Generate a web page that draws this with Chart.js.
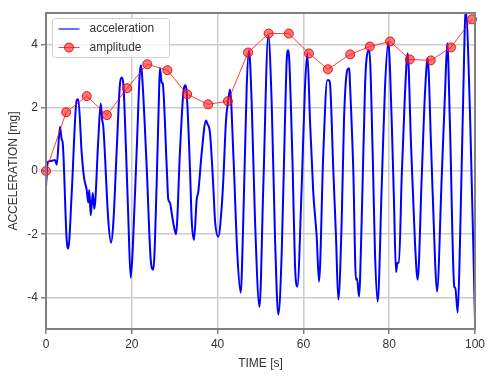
<!DOCTYPE html>
<html>
<head>
<meta charset="utf-8">
<script src="https://cdn.jsdelivr.net/npm/chart.js@4"></script>
<style>
  body { margin: 0; background: #fff; }
  canvas { display: block; }
</style>
</head>
<body>
<canvas id="accChart" width="499" height="378"></canvas>
<script>
// acceleration signal (time [s], value [mg])
const accTime = [0, 0.05, 0.3, 1.2, 2.1, 2.5, 3.26, 3.66, 3.89, 4.83, 5.2, 5.99, 7.16, 7.53, 8.32, 8.86, 9.49, 9.86, 10.09, 10.42, 10.89, 11.26,
  12.19, 12.75, 13.12, 13.36, 14.52, 15.15, 15.69, 16.48, 17.25, 17.65, 18.02, 18.65, 19.18, 19.74, 20.21, 21.14, 22.07, 22.31,
  23.47, 24.41, 25.01, 25.8, 26.41, 26.57, 26.97, 27.2, 28.14, 28.51, 28.9, 29.3, 29.67, 30.3, 31.24, 32.0, 32.4, 32.8,
  33.57, 33.96, 34.5, 35.13, 35.5, 36.29, 37.3, 37.6, 38.23, 39.0, 39.39, 40.16, 40.96, 41.33, 41.96, 42.49, 42.89,
  43.66, 44.59, 45.38, 45.99, 46.78, 47.32, 47.95, 48.72, 49.77, 50.65, 51.82, 52.61, 53.38, 54.15, 54.94, 55.71, 56.11, 56.48, 56.71,
  57.51, 58.04, 58.58, 59.6, 60.37, 60.91, 61.54, 62.31, 63.1, 63.64, 64.64, 65.57, 65.92, 66.2, 66.97, 67.6, 68.14,
  68.93, 69.46, 70.23, 70.7, 70.86, 71.63, 72.26, 72.5, 72.96, 73.59, 74.36, 74.76, 75.36, 76.15, 76.69, 77.32,
  78.25, 79.02, 79.79, 80.58, 81.12, 81.59, 81.93, 82.28, 82.91, 83.68, 84.31, 85.08, 86.01, 86.64, 87.58, 88.34, 88.97,
  89.74, 90.68, 91.14, 92.24, 93.01, 93.54, 94.17, 95.17, 95.4, 95.97, 96.5, 97.27, 97.83, 98.9, 100];
const accValue = [0.40, -0.45, 0.28, 0.32, 0.35, 0.20, 1.40, 1.00, 0.90, -2.20, -2.45, -0.70, 2.24, 2.27, 0.57, -0.20, -0.60, -1.00, -0.60, -1.40, -0.70, -1.20,
  1.00, 2.14, 1.60, 1.40, -1.55, -2.27, -1.65, 0.66, 2.77, 2.96, 2.77, 0.66, -1.45, -3.38, -2.50, 0.66, 3.34, 3.19,
  0.13, -2.80, -3.12, -0.38, 2.77, 3.25, 2.80, 2.77, 0.13, -0.90, -1.00, -1.33, -1.64, -2.00, 0.66, 2.46, 2.71, 2.46,
  0.03, -1.55, -2.18, -0.90, -0.66, 0.57, 1.60, 1.50, 1.20, -0.50, -1.55, -2.08, -1.13, -0.28, 1.60, 2.24, 2.58,
  0.57, -2.60, -3.85, -1.55, 2.65, 3.82, 2.14, -1.55, -4.30, -0.50, 4.29, 2.14, -2.08, -4.54, -2.60, 1.60, 3.50, 3.82, 3.50,
  0.03, -2.97, -3.66, -0.50, 2.65, 3.72, 1.60, -0.70, -2.08, -3.50, 0.57, 2.87, 2.87, 2.77, 0.03, -2.08, -4.07,
  -1.55, 1.60, 3.19, 3.25, 2.77, 0.03, -3.44, -3.40, -3.97, -1.55, 2.65, 3.60, 3.82, 0.57, -2.60, -4.13,
  -0.50, 2.65, 4.07, 1.60, -1.00, -3.20, -2.90, -2.90, -0.20, 2.46, 3.72, 0.88, -2.27, -3.44, -0.20, 2.46, 3.56,
  0.88, -2.80, -3.82, -0.20, 2.46, 4.04, 1.40, -3.66, -3.70, -4.48, -2.27, 2.46, 5.10, 1.50, -4.70];

// amplitude markers
const ampTime = [0, 4.7, 9.5, 14.2, 18.9, 23.6, 28.3, 32.9, 37.8, 42.4, 47.1, 51.9, 56.6, 61.3, 65.7, 70.9, 75.5, 80.2, 84.8, 89.7, 94.4, 99.3];
const ampValue = [0, 1.86, 2.37, 1.77, 2.62, 3.38, 3.19, 2.43, 2.11, 2.21, 3.75, 4.35, 4.35, 3.72, 3.22, 3.69, 3.94, 4.10, 3.53, 3.50, 3.91, 4.80];

const yTicks = [-4, -2, 0, 2, 4];
const xTicks = [0, 20, 40, 60, 80, 100];
const legendLabels = ['acceleration', 'amplitude'];

const FONT = { family: '"Liberation Sans", Arial, sans-serif', size: 12 };
const GRID = '#cccccc';
const SPINE = '#808080';
const AMP_FILL = 'rgba(255,30,30,0.6)';
const AMP_EDGE = 'rgba(235,0,0,0.9)';

// frame on all four sides + legend box in the upper left corner
const framePlugin = {
  id: 'frame',
  afterDraw(chart) {
    const { ctx, chartArea: a } = chart;
    ctx.save();
    ctx.strokeStyle = SPINE;
    ctx.lineWidth = 2;
    ctx.strokeRect(a.left, a.top, a.right - a.left, a.bottom - a.top);

    // legend
    const lx = a.left + 6.5, ly = a.top + 5.5, lw = 117, lh = 39;
    ctx.beginPath();
    ctx.roundRect(lx, ly, lw, lh, 3);
    ctx.fillStyle = 'rgba(255,255,255,0.8)';
    ctx.fill();
    ctx.strokeStyle = '#d0d0d0';
    ctx.lineWidth = 1;
    ctx.stroke();

    ctx.font = FONT.size + 'px ' + FONT.family;
    ctx.textBaseline = 'middle';
    ctx.fillStyle = '#333';
    const rows = [ly + 10.5, ly + 29];
    // acceleration entry
    ctx.strokeStyle = 'rgba(0,0,255,0.75)';
    ctx.lineWidth = 1.5;
    ctx.beginPath();
    ctx.moveTo(lx + 6, rows[0]);
    ctx.lineTo(lx + 27, rows[0]);
    ctx.stroke();
    ctx.fillText(legendLabels[0], lx + 37, rows[0]);
    // amplitude entry
    ctx.strokeStyle = 'rgba(255,0,0,0.75)';
    ctx.lineWidth = 1;
    ctx.beginPath();
    ctx.moveTo(lx + 6, rows[1]);
    ctx.lineTo(lx + 27, rows[1]);
    ctx.stroke();
    ctx.beginPath();
    ctx.arc(lx + 16.5, rows[1], 4.5, 0, Math.PI * 2);
    ctx.fillStyle = AMP_FILL;
    ctx.fill();
    ctx.strokeStyle = AMP_EDGE;
    ctx.stroke();
    ctx.fillStyle = '#333';
    ctx.fillText(legendLabels[1], lx + 37, rows[1]);
    ctx.restore();
  }
};

const ctx = document.getElementById('accChart').getContext('2d');
const accChart = new Chart(ctx, {
  type: 'line',
  data: {
    datasets: [{
      label: legendLabels[0],
      data: accTime.map((t, i) => ({ x: t, y: accValue[i] })),
      borderColor: '#0000ff',
      borderWidth: 2,
      pointRadius: 0,
      cubicInterpolationMode: 'monotone',
      order: 1
    }, {
      label: legendLabels[1],
      data: ampTime.map((t, i) => ({ x: t, y: ampValue[i] })),
      borderColor: 'rgba(255,0,0,0.75)',
      borderWidth: 1,
      pointRadius: 4.5,
      pointBackgroundColor: AMP_FILL,
      pointBorderColor: AMP_EDGE,
      pointBorderWidth: 1,
      clip: 8,
      order: 0
    }]
  },
  options: {
    responsive: false,
    animation: false,
    layout: { padding: { top: 13, right: 24, left: 0, bottom: 0 } },
    plugins: {
      legend: { display: false },
      tooltip: { enabled: false }
    },
    scales: {
      x: {
        type: 'linear',
        min: 0,
        max: 100,
        afterFit: s => { s.height = 49; },
        afterBuildTicks: s => { s.ticks = xTicks.map(v => ({ value: v })); },
        grid: { color: GRID, lineWidth: 1.5, tickLength: 5, tickColor: SPINE },
        border: { color: SPINE, width: 2 },
        ticks: { font: FONT, color: '#333', padding: 3, maxRotation: 0 },
        title: { display: true, text: 'TIME [s]', font: FONT, color: '#333', padding: { top: 0, bottom: 7 } }
      },
      y: {
        min: -5,
        max: 5,
        afterFit: s => { s.width = 46; },
        afterBuildTicks: s => { s.ticks = yTicks.map(v => ({ value: v })); },
        grid: { color: GRID, lineWidth: 1.5, tickLength: 5, tickColor: SPINE },
        border: { color: SPINE, width: 2 },
        ticks: { font: FONT, color: '#333', padding: 3 },
        title: { display: true, text: 'ACCELERATION [mg]', font: FONT, color: '#333', padding: { top: 6, bottom: 0 } }
      }
    }
  },
  plugins: [framePlugin]
});
</script>
</body>
</html>
